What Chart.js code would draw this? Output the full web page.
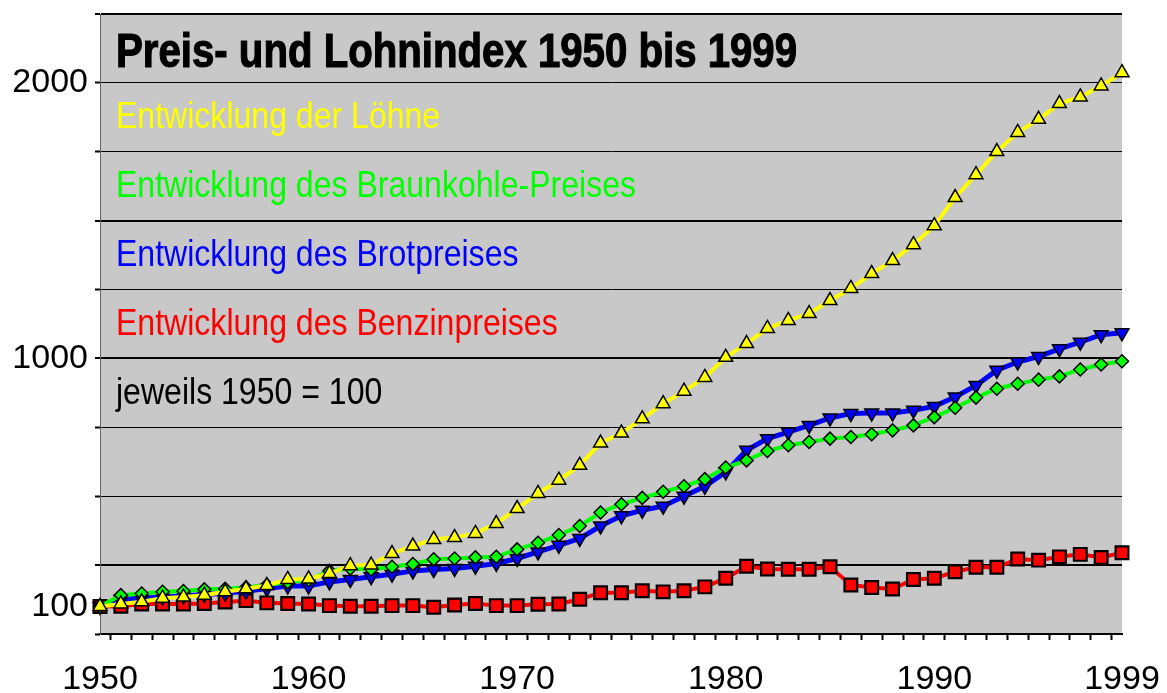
<!DOCTYPE html>
<html>
<head>
<meta charset="utf-8">
<script src="https://cdn.jsdelivr.net/npm/chart.js@4.4.1/dist/chart.umd.min.js"></script>
<style>
  html, body { margin: 0; padding: 0; background: #ffffff; }
  #wrap { width: 1167px; height: 693px; }
</style>
</head>
<body>
<div id="wrap"><canvas id="c" width="1167" height="693"></canvas></div>
<script>
// ---------- data ----------
const years = [1950,1951,1952,1953,1954,1955,1956,1957,1958,1959,
               1960,1961,1962,1963,1964,1965,1966,1967,1968,1969,
               1970,1971,1972,1973,1974,1975,1976,1977,1978,1979,
               1980,1981,1982,1983,1984,1985,1986,1987,1988,1989,
               1990,1991,1992,1993,1994,1995,1996,1997,1998,1999];

const loehne = [100,109,117,130,134,141,153,164,176,198,
                200,220,248,250,292,319,343,350,365,401,
                455,510,558,612,693,729,781,836,881,931,
                1004,1054,1109,1138,1163,1210,1254,1308,1355,1413,
                1482,1584,1667,1751,1820,1868,1925,1949,1989,2037];

const braunkohle = [100,141,147,153,156,162,164,169,178,188,
                    196,229,238,234,244,254,271,274,278,280,
                    307,331,359,392,441,471,494,516,536,562,
                    604,630,664,685,697,709,715,725,739,757,
                    787,821,858,890,908,923,935,960,978,990];

const brot = [100,125,130,134,138,143,148,155,165,174,
              174,189,198,208,217,229,234,238,246,256,
              274,298,322,347,392,429,449,464,500,536,
              588,667,709,733,757,784,800,802,802,812,
              826,860,902,957,987,1007,1035,1059,1086,1093];

const benzin = [100,101,109,109,109,111,116,121,113,111,
                109,103,101,101,103,103,97,105,111,103,
                103,108,109,126,150,150,157,153,157,171,
                202,246,236,235,235,244,178,169,163,198,
                202,226,242,242,272,268,280,289,278,295];

const seriesNames = ['Entwicklung der Löhne',
                     'Entwicklung des Braunkohle-Preises',
                     'Entwicklung des Brotpreises',
                     'Entwicklung des Benzinpreises'];
const titleText = 'Preis- und Lohnindex 1950 bis 1999';
const noteText = 'jeweils 1950 = 100';

const xLabelYears = [1950, 1960, 1970, 1980, 1990, 1999];
const yGridValues = [0, 250, 500, 750, 1000, 1250, 1500, 1750, 2000, 2250];
const yLabelValues = [100, 1000, 2000];
const yThickLines = [250, 1000, 1500, 2250];

// ---------- styling ----------
const colors = ['#ffff00', '#00ff00', '#0000ff', '#ff0000'];
const FONT = '"Liberation Sans", Arial, sans-serif';

const toXY = arr => years.map((yr, i) => ({ x: yr, y: arr[i] }));

const plotBg = {
  id: 'plotBg',
  beforeDraw(chart) {
    const { ctx, chartArea: a } = chart;
    ctx.save();
    ctx.fillStyle = '#c8c8c8';
    ctx.fillRect(a.left, a.top, a.right - a.left, a.bottom - a.top);
    ctx.restore();
  }
};

const plotTexts = {
  id: 'plotTexts',
  beforeDatasetsDraw(chart) {
    const { ctx, chartArea: a } = chart;
    const x0 = a.left + 16;
    ctx.save();
    ctx.textBaseline = 'alphabetic';
    ctx.textAlign = 'left';
    // title (heavy, condensed)
    ctx.save();
    ctx.translate(x0, 67);
    ctx.scale(0.82, 1);
    ctx.font = 'bold 49px ' + FONT;
    ctx.fillStyle = '#000000';
    ctx.strokeStyle = '#000000';
    ctx.lineWidth = 1.2;
    ctx.fillText(titleText, 0, 0);
    ctx.strokeText(titleText, 0, 0);
    ctx.restore();
    // series labels + note
    const lines = seriesNames.map((t, i) => ({ t, c: colors[i] }));
    lines.push({ t: noteText, c: '#000000' });
    lines.forEach((ln, i) => {
      ctx.save();
      ctx.translate(x0, 128 + i * 69);
      ctx.scale(0.89, 1);
      ctx.font = '36px ' + FONT;
      ctx.fillStyle = ln.c;
      ctx.fillText(ln.t, 0, 0);
      ctx.restore();
    });
    ctx.restore();
  }
};

const common = { borderWidth: 4, pointBorderColor: '#000000', pointBorderWidth: 1.5, tension: 0, clip: false };

new Chart(document.getElementById('c'), {
  type: 'line',
  data: {
    datasets: [
      { ...common, label: seriesNames[0], data: toXY(loehne), borderColor: colors[0], backgroundColor: colors[0],
        pointStyle: 'triangle', pointRadius: 8, pointBackgroundColor: colors[0] },
      { ...common, label: seriesNames[1], data: toXY(braunkohle), borderColor: colors[1], backgroundColor: colors[1],
        pointStyle: 'rectRot', pointRadius: 6.5, pointBackgroundColor: colors[1] },
      { ...common, label: seriesNames[2], data: toXY(brot), borderColor: colors[2], backgroundColor: colors[2],
        pointStyle: 'triangle', pointRotation: 180, pointRadius: 8, pointBackgroundColor: colors[2], borderWidth: 5 },
      { ...common, label: seriesNames[3], data: toXY(benzin), borderColor: colors[3], backgroundColor: colors[3],
        pointStyle: 'rect', pointRadius: 9, pointBackgroundColor: colors[3], pointBorderWidth: 2.2 }
    ]
  },
  options: {
    responsive: false,
    animation: false,
    devicePixelRatio: 1,
    layout: { padding: { left: 0, top: 14, right: 45, bottom: 0 } },
    plugins: { legend: { display: false }, title: { display: false }, tooltip: { enabled: false } },
    scales: {
      x: {
        type: 'linear', min: 1950, max: 1999,
        afterBuildTicks(scale) {
          const vals = xLabelYears.slice();
          for (let y = 1950; y < 1999; y++) vals.push(y + 0.5);
          vals.sort((a, b) => a - b);
          scale.ticks = vals.map(v => ({ value: v }));
        },
        afterFit(scale) { scale.height = 59; scale.paddingLeft = 0; scale.paddingRight = 0; },
        ticks: {
          autoSkip: false, maxRotation: 0, minRotation: 0, padding: 19,
          color: '#000000', font: { family: FONT, size: 34 },
          callback: v => xLabelYears.includes(v) ? String(v) : ''
        },
        grid: {
          drawOnChartArea: false, drawTicks: true, tickLength: 6, tickWidth: 2,
          tickColor: c => (c.tick && Number.isInteger(c.tick.value)) ? 'rgba(0,0,0,0)' : '#000000'
        },
        border: { display: true, color: '#000000', width: 2 }
      },
      y: {
        type: 'linear', min: 0, max: 2250,
        afterBuildTicks(scale) {
          const vals = yGridValues.concat(yLabelValues.filter(v => !yGridValues.includes(v)));
          vals.sort((a, b) => a - b);
          scale.ticks = vals.map(v => ({ value: v }));
        },
        afterFit(scale) { scale.width = 100; scale.paddingTop = 0; scale.paddingBottom = 0; },
        ticks: {
          autoSkip: false, padding: 7, color: '#000000', font: { family: FONT, size: 34 },
          callback: v => yLabelValues.includes(v) ? String(v) : ''
        },
        grid: {
          color: c => (c.tick && yGridValues.includes(c.tick.value)) ? '#000000' : 'rgba(0,0,0,0)',
          tickColor: c => (c.tick && yGridValues.includes(c.tick.value)) ? '#000000' : 'rgba(0,0,0,0)',
          lineWidth: c => (c.tick && yThickLines.includes(c.tick.value)) ? 2 : 1,
          tickLength: 5, tickWidth: 2
        },
        border: { display: true, color: '#666666', width: 1 }
      }
    }
  },
  plugins: [plotBg, plotTexts]
});
</script>
</body>
</html>
